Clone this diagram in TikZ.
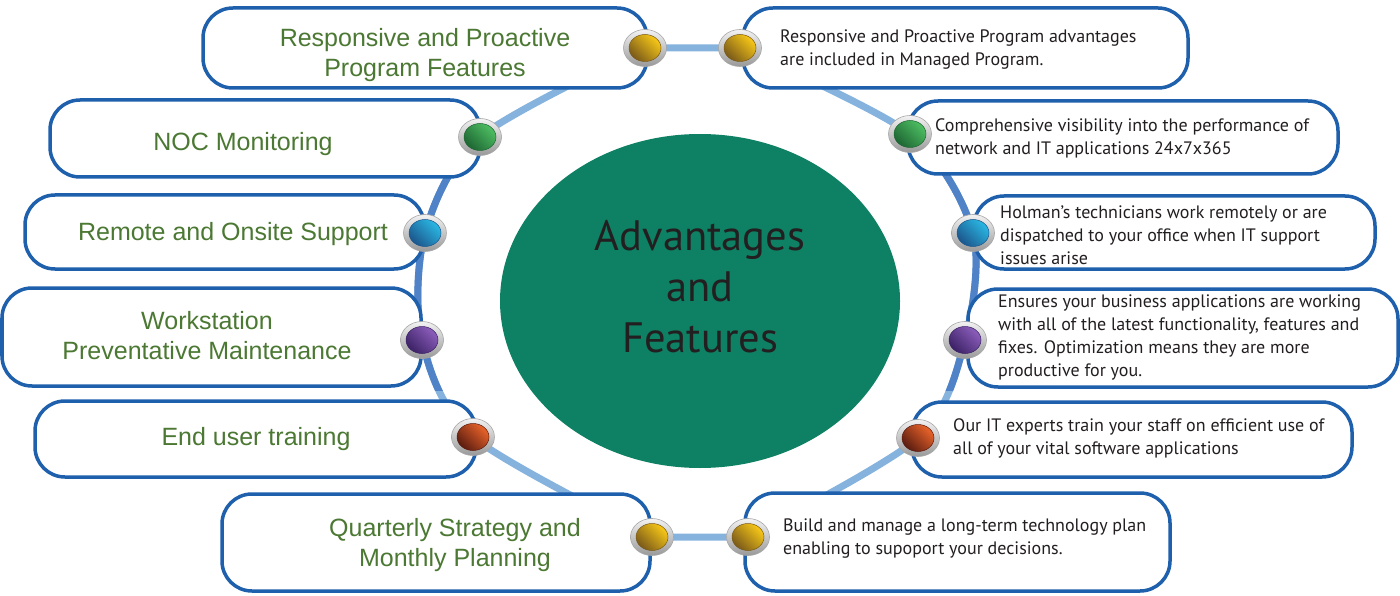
\documentclass[tikz,border=0pt]{standalone}
\usepackage{fontspec}
\setmainfont{PT Sans}
\newfontfamily\titlefont{Liberation Sans}
\usetikzlibrary{shapes.geometric,backgrounds}

\definecolor{boxblue}{HTML}{1F60AD}
\definecolor{ringlight}{HTML}{85B3DE}
\definecolor{ringmid}{HTML}{4F82C6}
\definecolor{ringdark}{HTML}{2F67B3}
\definecolor{hubgreen}{HTML}{0E8063}
\definecolor{leafgreen}{HTML}{4B7832}
\definecolor{inkdark}{HTML}{231F20}
\definecolor{goldLt}{HTML}{F8C817}
\definecolor{goldDk}{HTML}{7A5A1A}
\definecolor{leafLt}{HTML}{4DBE62}
\definecolor{leafDk}{HTML}{1E6633}
\definecolor{skyLt}{HTML}{2AB8E4}
\definecolor{skyDk}{HTML}{1C568C}
\definecolor{plumLt}{HTML}{8C5EBC}
\definecolor{plumDk}{HTML}{3C2266}
\definecolor{rustLt}{HTML}{EA642A}
\definecolor{rustDk}{HTML}{5A1C10}

\begin{document}
\begin{tikzpicture}[x=1pt,y=-1pt,
    panel/.style={draw=boxblue,line width=3.5pt,fill=white,rounded corners=30pt,inner sep=0pt},
    title/.style={font=\titlefont\fontsize{25}{30}\selectfont,text=leafgreen,align=center},
    note/.style={font=\fontsize{18}{23}\selectfont,text=inkdark,align=left,anchor=west,inner sep=0pt},
    rim/.style={ellipse,minimum width=43pt,minimum height=37pt,inner sep=0pt,draw=gray!70,line width=0.6pt,
        top color=white!90!gray,bottom color=gray!80},
    ringline/.style={draw=ringlight,line width=7pt}]

    \useasboundingbox (0,0) rectangle (1400,596);

    \foreach \n/\x/\y/\w/\h in {l1/425/48/444/80, l2/265/138.5/430/77, l3/224.5/232/399/74,
        l4/211.5/337/419/98, l5/255.5/439/441/76, l6/436/542.5/428/97,
        r1/965.5/48/445/80, r2/1123/137.5/430/73, r3/1174.5/232.5/401/73,
        r4/1183/338/430/98, r5/1132/439.5/440/75, r6/957.5/542/425/98}
    {
        \node[panel,minimum width=\w pt,minimum height=\h pt] (box\n) at (\x,\y) {};
    }

    \node[ellipse,fill=hubgreen,minimum width=400pt,minimum height=334pt,inner sep=0pt] (hub) at (700,301) {};
    \node[font=\fontsize{42.5}{51}\selectfont,text=inkdark,align=center] (hubtext) at (700,287) {Advantages\\and\\Features};

    \foreach \n/\x/\y/\col in {l1/645/48/gold, l2/480/137/leaf, l3/425/233/sky, l4/422/340/plum,
        l5/473/437/rust, l6/652/537/gold, r1/740/48/gold, r2/910/134/leaf, r3/973/233/sky,
        r4/965/340/plum, r5/918/438/rust, r6/748/537/gold}
    {
        \node[rim] (\n) at (\x,\y) {};
        \shade[top color=\col Lt,bottom color=\col Dk,shading angle=-45,draw=\col Dk,line width=0.5pt]
            (\n.center) ellipse [x radius=16pt,y radius=13.5pt];
    }

    \begin{scope}[on background layer]
        \draw[ringline] plot[smooth] coordinates {(l1.center) (l2.center) (l3.center) (l4.center) (l5.center) (l6.center)}
            -- plot[smooth] coordinates {(r6.center) (r5.center) (r4.center) (r3.center) (r2.center) (r1.center)} -- cycle;
        \clip (0,175) rectangle (1400,390);
        \draw[ringline,draw=ringmid] plot[smooth] coordinates {(l1.center) (l2.center) (l3.center) (l4.center) (l5.center) (l6.center)}
            -- plot[smooth] coordinates {(r6.center) (r5.center) (r4.center) (r3.center) (r2.center) (r1.center)} -- cycle;
    \end{scope}

    \node[title] (tl1) at (425,55) {Responsive and Proactive\\Program Features};
    \node[title] (tl2) at (243,144) {NOC Monitoring};
    \node[title] (tl3) at (233,234) {Remote and Onsite Support};
    \node[title] (tl4) at (207,336) {Workstation\\Preventative Maintenance};
    \node[title] (tl5) at (256,439) {End user training};
    \node[title] (tl6) at (455,545) {Quarterly Strategy and\\Monthly Planning};

    \node[note] (tr1) at (780,50) {Responsive and Proactive Program advantages\\are included in Managed Program.};
    \node[note] (tr2) at (935,138.5) {Comprehensive visibility into the performance of\\network and IT applications 24x7x365};
    \node[note] (tr3) at (1000,235) {Holman’s technicians work remotely or are\\dispatched to your office when IT support\\issues arise};
    \node[note] (tr4) at (998,337.5) {Ensures your business applications are working\\with all of the latest functionality, features and\\fixes. Optimization means they are more\\productive for you.};
    \node[note] (tr5) at (953,438) {Our IT experts train your staff on efficient use of\\all of your vital software applications};
    \node[note] (tr6) at (783,539) {Build and manage a long-term technology plan\\enabling to supoport your decisions.};
\end{tikzpicture}
\end{document}
